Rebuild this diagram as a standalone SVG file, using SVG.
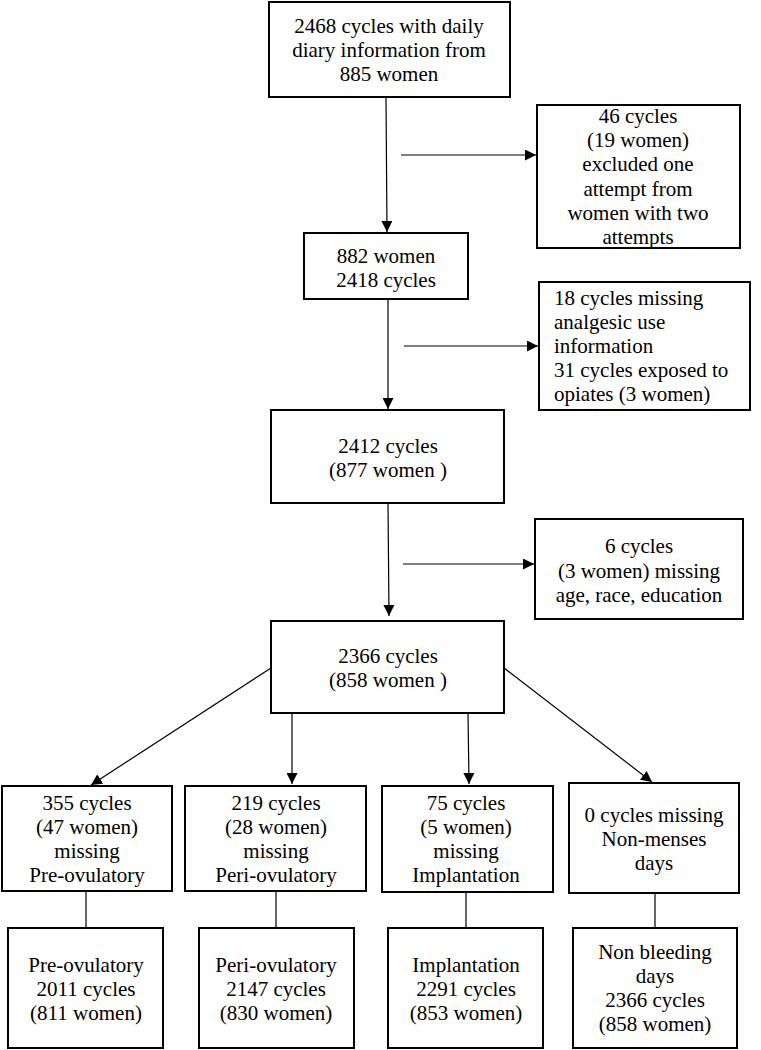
<svg xmlns="http://www.w3.org/2000/svg" width="761" height="1050" viewBox="0 0 761 1050">
<style>
.box{fill:#fff;stroke:#000;stroke-width:2}
.t{font-family:"Liberation Serif","Times New Roman",serif;font-size:21px;fill:#000}
.c{text-anchor:middle}
.ln{stroke:#000;stroke-width:1.2;fill:none}
</style>
<defs>
<marker id="ah" viewBox="0 0 10 10" refX="10" refY="5" markerWidth="11" markerHeight="11" markerUnits="userSpaceOnUse" orient="auto">
<path d="M0,0 L10,5 L0,10 z" fill="#000"/>
</marker>
</defs>
<rect width="761" height="1050" fill="#fff"/>
<g id="connectors">
<line class="ln" x1="386" y1="97" x2="387" y2="232" marker-end="url(#ah)"/>
<line class="ln" x1="401" y1="155" x2="536" y2="155" marker-end="url(#ah)"/>
<line class="ln" x1="388" y1="299" x2="388" y2="409" marker-end="url(#ah)"/>
<line class="ln" x1="404" y1="346" x2="538" y2="346" marker-end="url(#ah)"/>
<line class="ln" x1="388" y1="503" x2="389" y2="616" marker-end="url(#ah)"/>
<line class="ln" x1="403" y1="564" x2="534" y2="564" marker-end="url(#ah)"/>
<line class="ln" x1="271" y1="668" x2="91" y2="785" marker-end="url(#ah)"/>
<line class="ln" x1="292" y1="713" x2="292" y2="784" marker-end="url(#ah)"/>
<line class="ln" x1="468" y1="713" x2="469" y2="784" marker-end="url(#ah)"/>
<line class="ln" x1="504" y1="668" x2="652" y2="782" marker-end="url(#ah)"/>
<line class="ln" x1="86" y1="891" x2="86" y2="928"/>
<line class="ln" x1="276" y1="891" x2="276" y2="928"/>
<line class="ln" x1="466" y1="892" x2="466" y2="928"/>
<line class="ln" x1="655" y1="893" x2="655" y2="928"/>
</g>
<g id="n1">
<rect class="box" x="269" y="2" width="241" height="95"/>
<text class="t c" x="389"><tspan x="389" y="33">2468 cycles with daily</tspan><tspan x="389" y="57">diary information from</tspan><tspan x="389" y="81">885 women</tspan></text>
</g>
<g id="ex1">
<rect class="box" x="537" y="105" width="203" height="143"/>
<text class="t c"><tspan x="638" y="123">46 cycles</tspan><tspan x="638" y="147">(19 women)</tspan><tspan x="638" y="171">excluded one</tspan><tspan x="638" y="196">attempt from</tspan><tspan x="638" y="220">women with two</tspan><tspan x="638" y="244">attempts</tspan></text>
</g>
<g id="n2">
<rect class="box" x="304" y="233" width="164" height="66"/>
<text class="t c"><tspan x="386" y="263">882 women</tspan><tspan x="386" y="287">2418 cycles</tspan></text>
</g>
<g id="ex2">
<rect class="box" x="539" y="282" width="211" height="128"/>
<text class="t"><tspan x="554" y="305">18 cycles missing</tspan><tspan x="554" y="329">analgesic use</tspan><tspan x="554" y="353">information</tspan><tspan x="554" y="377">31 cycles exposed to</tspan><tspan x="554" y="401">opiates (3 women)</tspan></text>
</g>
<g id="n3">
<rect class="box" x="271" y="410" width="233" height="93"/>
<text class="t c"><tspan x="388" y="453">2412 cycles</tspan><tspan x="388" y="477">(877 women )</tspan></text>
</g>
<g id="ex3">
<rect class="box" x="535" y="519" width="208" height="100"/>
<text class="t c"><tspan x="639" y="553">6 cycles</tspan><tspan x="639" y="578">(3 women) missing</tspan><tspan x="639" y="602">age, race, education</tspan></text>
</g>
<g id="n4">
<rect class="box" x="271" y="621" width="233" height="92"/>
<text class="t c"><tspan x="388" y="663">2366 cycles</tspan><tspan x="388" y="687">(858 women )</tspan></text>
</g>
<g id="m1">
<rect class="box" x="2" y="786" width="170" height="105"/>
<text class="t c"><tspan x="87" y="810">355 cycles</tspan><tspan x="87" y="834">(47 women)</tspan><tspan x="87" y="858">missing</tspan><tspan x="87" y="882">Pre-ovulatory</tspan></text>
</g>
<g id="m2">
<rect class="box" x="185" y="786" width="181" height="105"/>
<text class="t c"><tspan x="276" y="810">219 cycles</tspan><tspan x="276" y="834">(28 women)</tspan><tspan x="276" y="858">missing</tspan><tspan x="276" y="882">Peri-ovulatory</tspan></text>
</g>
<g id="m3">
<rect class="box" x="382" y="786" width="171" height="106"/>
<text class="t c"><tspan x="466" y="810">75 cycles</tspan><tspan x="466" y="834">(5 women)</tspan><tspan x="466" y="858">missing</tspan><tspan x="466" y="882">Implantation</tspan></text>
</g>
<g id="m4">
<rect class="box" x="569" y="783" width="170" height="110"/>
<text class="t c"><tspan x="654" y="822">0 cycles missing</tspan><tspan x="654" y="846">Non-menses</tspan><tspan x="654" y="870">days</tspan></text>
</g>
<g id="f1">
<rect class="box" x="8" y="928" width="155" height="120"/>
<text class="t c"><tspan x="86" y="972">Pre-ovulatory</tspan><tspan x="86" y="996">2011 cycles</tspan><tspan x="86" y="1020">(811 women)</tspan></text>
</g>
<g id="f2">
<rect class="box" x="199" y="928" width="155" height="120"/>
<text class="t c"><tspan x="276" y="972">Peri-ovulatory</tspan><tspan x="276" y="996">2147 cycles</tspan><tspan x="276" y="1020">(830 women)</tspan></text>
</g>
<g id="f3">
<rect class="box" x="388" y="928" width="155" height="120"/>
<text class="t c"><tspan x="466" y="972">Implantation</tspan><tspan x="466" y="996">2291 cycles</tspan><tspan x="466" y="1020">(853 women)</tspan></text>
</g>
<g id="f4">
<rect class="box" x="573" y="928" width="164" height="120"/>
<text class="t c"><tspan x="655" y="959">Non bleeding</tspan><tspan x="655" y="983">days</tspan><tspan x="655" y="1007">2366 cycles</tspan><tspan x="655" y="1031">(858 women)</tspan></text>
</g>
</svg>
